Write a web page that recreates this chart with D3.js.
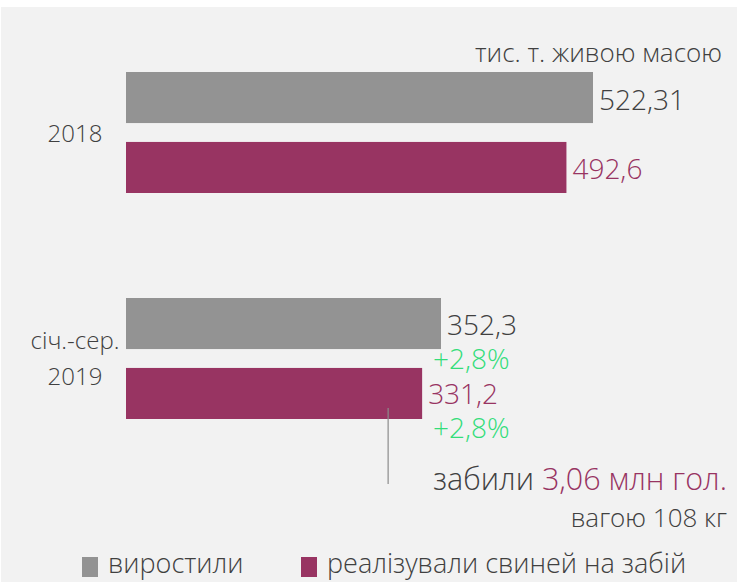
<!DOCTYPE html>
<html>
<head>
<meta charset="utf-8">
<script src="https://cdn.jsdelivr.net/npm/d3@7"></script>
<style>
body { margin: 0; background: #fff; }
text { font-family: "Open Sans", sans-serif; font-weight: 350; font-stretch: 90%; }
</style>
</head>
<body>
<script>
var periods = ["2018", "січ.-сер. 2019"],
	periodLines = [["2018"], ["січ.-сер.", "2019"]],
	series = ["виростили", "реалізували свиней на забій"],
	grown = [522.31, 352.3],
	sold = [492.6, 331.2],
	valueLabels = [["522,31", "492,6"], ["352,3", "331,2"]],
	growthLabels = [null, "+2,8%"];

var width = 737, height = 582;
var colors = ["#939393", "#983462"];

var svg = d3.select("body").append("svg")
		.attr("width", width)
		.attr("height", height);

svg.append("rect")
	.attr("x", 1).attr("y", 7)
	.attr("width", width - 1).attr("height", height - 7)
	.attr("fill", "#f2f2f2");

var x = d3.scaleLinear().domain([0, 522.31]).range([126, 593]);

var y0 = d3.scaleBand().domain(periods).range([72, 419]).paddingInner(0.4646).paddingOuter(0);
var y1 = d3.scaleBand().domain(series).range([0, y0.bandwidth()]).paddingInner(0.27);

var data = periods.map(function(p, i){
	return {period: p, i: i, values: [grown[i], sold[i]]};
});

var g = svg.selectAll(".group")
		.data(data)
		.enter().append("g")
		.attr("class", "group")
		.attr("transform", function(d){ return "translate(0," + y0(d.period) + ")"; });

g.selectAll("rect")
	.data(function(d){ return d.values.map(function(v, j){ return {v: v, j: j, i: d.i}; }); })
	.enter().append("rect")
	.attr("x", x(0))
	.attr("y", function(d){ return y1(series[d.j]); })
	.attr("width", function(d){ return x(d.v) - x(0); })
	.attr("height", y1.bandwidth())
	.attr("fill", function(d){ return colors[d.j]; });

g.selectAll(".val")
	.data(function(d){ return d.values.map(function(v, j){ return {v: v, j: j, i: d.i}; }); })
	.enter().append("text")
	.attr("class", "val")
	.attr("x", function(d){ return x(d.v) + 6; })
	.attr("y", function(d){ return y1(series[d.j]) + y1.bandwidth() / 2 + (d.i ? 11 : 12); })
	.attr("font-size", 28)
	.attr("fill", function(d){ return d.j ? "#983462" : "#404040"; })
	.text(function(d){ return valueLabels[d.i][d.j]; });

g.filter(function(d){ return growthLabels[d.i]; }).selectAll(".gr")
	.data(function(d){ return d.values.map(function(v, j){ return {v: v, j: j, i: d.i}; }); })
	.enter().append("text")
	.attr("class", "gr")
	.attr("x", 433)
	.attr("y", function(d){ return y1(series[d.j]) + y1.bandwidth() / 2 + 45; })
	.attr("font-size", 28)
	.attr("fill", "#33dd7a")
	.text(function(d){ return growthLabels[d.i]; });

// category labels
g.append("text")
	.attr("text-anchor", "middle")
	.attr("font-size", 24)
	.attr("fill", "#404040")
	.selectAll("tspan")
	.data(function(d){ return periodLines[d.i]; })
	.enter().append("tspan")
	.attr("x", 75)
	.attr("y", function(d, k, nodes){
		var n = nodes.length;
		return y0.bandwidth() / 2 + (k - (n - 1) / 2) * 36 + 9;
	})
	.text(function(d){ return d; });

svg.append("text")
	.attr("x", 722).attr("y", 62)
	.attr("text-anchor", "end")
	.attr("font-size", 26)
	.attr("fill", "#404040")
	.text("тис. т. живою масою");

// annotation
var lineX = x(sold[1]) - 34;
svg.append("line")
	.attr("x1", lineX).attr("x2", lineX)
	.attr("y1", 408).attr("y2", 484)
	.attr("stroke", "#8c8c8c").attr("stroke-width", 1.2);

var ann = svg.append("text")
	.attr("x", 727).attr("y", 490)
	.attr("text-anchor", "end")
	.attr("font-size", 30.5)
	.attr("fill", "#404040");
ann.append("tspan").text("забили ");
ann.append("tspan").attr("fill", "#983462").text("3,06 млн гол.");

svg.append("text")
	.attr("x", 727).attr("y", 527)
	.attr("text-anchor", "end")
	.attr("font-size", 26)
	.attr("fill", "#404040")
	.text("вагою 108 кг");

// legend
var legX = [82, 301];
var leg = svg.selectAll(".leg")
		.data(series)
		.enter().append("g")
		.attr("class", "leg")
		.attr("transform", function(d, i){ return "translate(" + legX[i] + ",557)"; });
leg.append("rect")
	.attr("width", 16).attr("height", 20)
	.attr("fill", function(d, i){ return colors[i]; });
leg.append("text")
	.attr("x", 26).attr("y", 16)
	.attr("font-size", 27)
	.attr("fill", "#404040")
	.text(function(d){ return d; });
</script>
</body>
</html>
